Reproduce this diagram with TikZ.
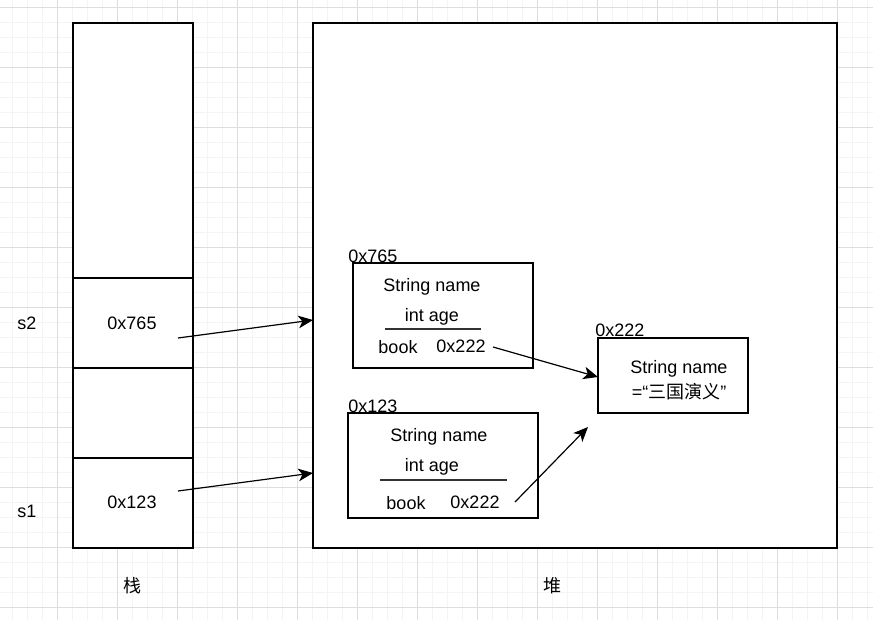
\documentclass[tikz,border=0pt]{standalone}
\usepackage{fontspec}
\setmainfont{Liberation Sans}
\newfontfamily\cjk{Noto Sans CJK SC}
\usetikzlibrary{arrows.meta}

\begin{document}
\begin{tikzpicture}[x=0.75pt,y=0.75pt,yscale=-1,xscale=1,
  txt/.style={inner sep=0.75pt,yshift=-1.2pt,font=\fontsize{13.5}{16}\selectfont},
  box/.style={draw,line width=0.9pt,fill=white},
  rule/.style={draw=black!80,line width=0.8pt},
  ptr/.style={-{Stealth[length=11pt,width=9.5pt,inset=3pt]},line width=0.9pt}]
\useasboundingbox (0,0) rectangle (873,620);

%Grid (minor and major lines)
\foreach \gx in {12.3,27.3,...,873} \draw[gray!9,line width=0.75pt] (\gx,0) -- (\gx,620);
\foreach \gy in {7.3,22.3,...,620} \draw[gray!9,line width=0.75pt] (0,\gy) -- (873,\gy);
\foreach \gx in {57.3,117.3,...,873} \draw[gray!27,line width=0.75pt] (\gx,0) -- (\gx,620);
\foreach \gy in {7.3,67.3,...,620} \draw[gray!27,line width=0.75pt] (0,\gy) -- (873,\gy);

%Shape: Stack
\draw[box] (73,23) rectangle (193,548);
\draw[box] (73,278) -- (193,278);
\draw[box] (73,368) -- (193,368);
\draw[box] (73,458) -- (193,458);
%Shape: Heap
\draw[box] (313,23) rectangle (837,548);
%Shape: Object 0x765
\draw[box] (353,263) rectangle (533,368);
\draw[rule] (385,329) -- (481,329);
%Shape: Object 0x123
\draw[box] (348,413) rectangle (538,518);
\draw[rule] (380,480) -- (507,480);
%Shape: String 0x222
\draw[box] (598,338) rectangle (748,413);

% Text Node
\node[txt] (s2) at (27,322) {s2};
\node[txt] (s1) at (27,510) {s1};
\node[txt] (v765) at (132,322) {0x765};
\node[txt] (v123) at (132,501) {0x123};
\node[txt] (zhan) at (132,584) {\cjk 栈};
\node[txt] (dui) at (552,584) {\cjk 堆};
% Text Node
\node[txt,anchor=west] (lab765) at (347,255) {0x765};
\node[txt] (name765) at (432,285) {String name};
\node[txt] (age765) at (432,315) {int age};
\node[txt] (book765) at (398,345) {book};
\node[txt] (ref765) at (461,345) {0x222};
% Text Node
\node[txt,anchor=west] (lab123) at (347,405) {0x123};
\node[txt] (name123) at (439,435) {String name};
\node[txt] (age123) at (432,465) {int age};
\node[txt] (book123) at (406,501) {book};
\node[txt] (ref123) at (475,501) {0x222};
% Text Node
\node[txt,anchor=west] (lab222) at (594,329) {0x222};
\node[txt] (name222) at (679,367) {String name};
\node[txt] (val222) at (679,390) {=“{\cjk 三国演义}”};

% Connection
\coordinate (from765) at (178,338);
\coordinate (to765) at (313,320);
\coordinate (from123) at (178,491);
\coordinate (to123) at (313,473);
\coordinate (bookA) at (493,347);
\coordinate (strA) at (598,377);
\coordinate (bookB) at (515,502);
\coordinate (strB) at (588,427);
\draw[ptr] (from765) -- (to765);
\draw[ptr] (from123) -- (to123);
\draw[ptr] (bookA) -- (strA);
\draw[ptr] (bookB) -- (strB);

\end{tikzpicture}
\end{document}
